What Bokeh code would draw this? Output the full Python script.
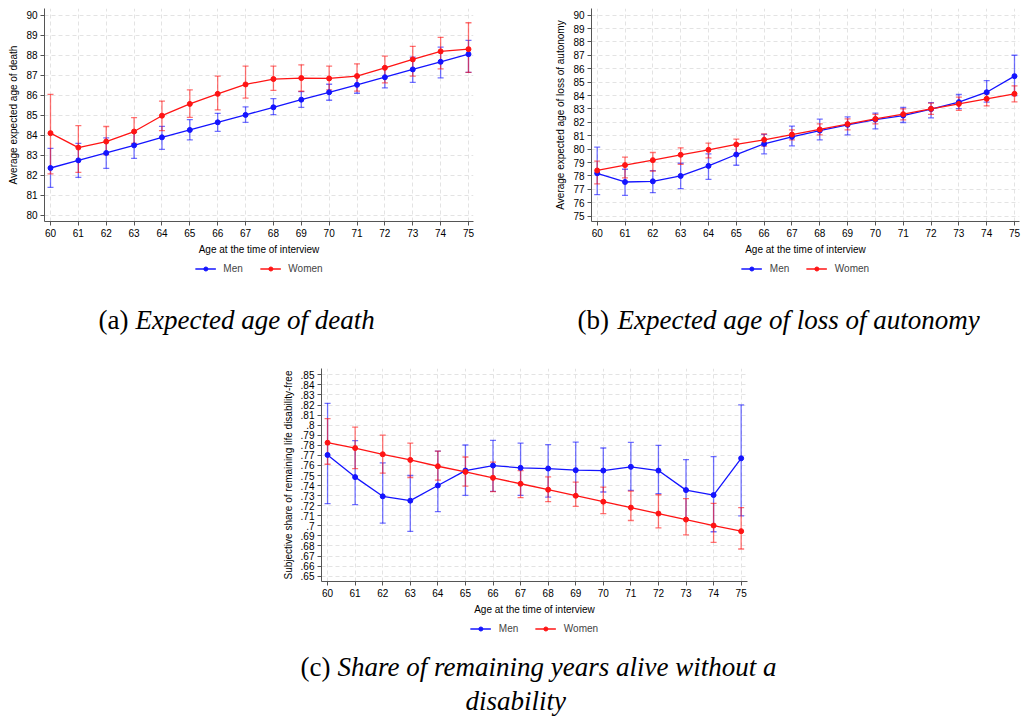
from bokeh.plotting import figure
from bokeh.models import (Range1d, FixedTicker, Legend, LegendItem, Whisker, TeeHead,
                          ColumnDataSource)
from bokeh.layouts import column, row
from bokeh.embed import file_html
from bokeh.resources import INLINE
from bokeh.core.properties import value

# ---------------- data ----------------
AGES = [60, 61, 62, 63, 64, 65, 66, 67, 68, 69, 70, 71, 72, 73, 74, 75]

# (a) Expected age of death
A_MEN = [82.37, 82.75, 83.12, 83.50, 83.90, 84.27, 84.65, 85.02, 85.40, 85.78, 86.15, 86.52, 86.90, 87.29, 87.67, 88.05]
A_MEN_LO = [81.40, 81.90, 82.35, 82.85, 83.30, 83.77, 84.20, 84.65, 85.03, 85.40, 85.75, 86.10, 86.37, 86.64, 86.87, 87.14]
A_MEN_HI = [83.35, 83.60, 83.87, 84.15, 84.45, 84.78, 85.10, 85.42, 85.83, 86.18, 86.55, 86.95, 87.40, 87.90, 88.40, 88.74]
A_WOM = [84.11, 83.39, 83.69, 84.19, 84.98, 85.57, 86.07, 86.54, 86.81, 86.86, 86.84, 86.96, 87.37, 87.79, 88.19, 88.30]
A_WOM_LO = [82.08, 82.15, 83.04, 83.60, 84.24, 84.90, 85.27, 85.86, 86.24, 86.20, 86.27, 86.21, 86.62, 86.96, 87.32, 87.14]
A_WOM_HI = [86.04, 84.48, 84.44, 84.88, 85.71, 86.27, 86.96, 87.45, 87.45, 87.52, 87.45, 87.57, 87.95, 88.44, 88.89, 89.62]

# (b) Expected age of loss of autonomy
B_MEN = [78.20, 77.55, 77.60, 78.00, 78.75, 79.60, 80.40, 80.92, 81.39, 81.82, 82.21, 82.51, 82.99, 83.51, 84.25, 85.45]
B_MEN_LO = [76.60, 76.55, 76.75, 77.05, 77.75, 78.80, 79.65, 80.25, 80.70, 81.07, 81.52, 81.99, 82.34, 83.03, 83.51, 84.00]
B_MEN_HI = [80.15, 78.50, 78.40, 78.95, 79.65, 80.35, 81.10, 81.72, 82.24, 82.41, 82.69, 83.11, 83.48, 84.08, 85.12, 87.01]
B_WOM = [78.41, 78.81, 79.18, 79.58, 79.95, 80.35, 80.70, 81.09, 81.47, 81.87, 82.26, 82.61, 83.01, 83.38, 83.76, 84.13]
B_WOM_LO = [77.41, 77.86, 78.36, 78.86, 79.35, 79.60, 80.22, 80.70, 81.07, 81.44, 81.89, 82.19, 82.59, 82.89, 83.23, 83.53]
B_WOM_HI = [79.10, 79.40, 79.75, 80.10, 80.45, 80.75, 81.14, 81.44, 81.89, 82.26, 82.59, 83.01, 83.43, 83.88, 84.13, 84.73]

# (c) Share of remaining years alive without a disability
C_MEN = [0.7704, 0.7484, 0.7293, 0.7250, 0.7401, 0.7549, 0.7599, 0.7576, 0.7569, 0.7553, 0.7549, 0.7586, 0.7549, 0.7355, 0.7306, 0.7671]
C_MEN_LO = [0.7220, 0.7211, 0.7026, 0.6944, 0.7141, 0.7303, 0.7342, 0.7303, 0.7286, 0.7296, 0.7336, 0.7352, 0.7319, 0.7066, 0.6941, 0.7099]
C_MEN_HI = [0.8217, 0.7846, 0.7625, 0.7500, 0.7743, 0.7803, 0.7849, 0.7822, 0.7806, 0.7832, 0.7773, 0.7829, 0.7799, 0.7658, 0.7688, 0.8201]
C_WOM = [0.7826, 0.7773, 0.7711, 0.7655, 0.7592, 0.7536, 0.7477, 0.7418, 0.7359, 0.7299, 0.7240, 0.7181, 0.7122, 0.7062, 0.7003, 0.6947]
C_WOM_LO = [0.7612, 0.7569, 0.7523, 0.7480, 0.7454, 0.7395, 0.7339, 0.7280, 0.7240, 0.7194, 0.7122, 0.7053, 0.6980, 0.6911, 0.6836, 0.6770]
C_WOM_HI = [0.8066, 0.7980, 0.7901, 0.7822, 0.7743, 0.7684, 0.7632, 0.7549, 0.7487, 0.7434, 0.7385, 0.7345, 0.7309, 0.7270, 0.7224, 0.7181]

A_YTICKS = [80, 81, 82, 83, 84, 85, 86, 87, 88, 89, 90]
B_YTICKS = [75, 76, 77, 78, 79, 80, 81, 82, 83, 84, 85, 86, 87, 88, 89, 90]
C_YTICKS = [0.65, 0.66, 0.67, 0.68, 0.69, 0.70, 0.71, 0.72, 0.73, 0.74, 0.75,
            0.76, 0.77, 0.78, 0.79, 0.80, 0.81, 0.82, 0.83, 0.84, 0.85]
C_YLABELS = [".65", ".66", ".67", ".68", ".69", ".7", ".71", ".72", ".73", ".74", ".75",
             ".76", ".77", ".78", ".79", ".8", ".81", ".82", ".83", ".84", ".85"]

SERIES = ["Men", "Women"]
X_TITLE = "Age at the time of interview"
Y_TITLES = ["Average expected age of death",
            "Average expected age of loss of autonomy",
            "Subjective share of remaining life disability-free"]
CAPTIONS = [("(a)", "Expected age of death"),
            ("(b)", "Expected age of loss of autonomy"),
            ("(c)", "Share of remaining years alive without a", "disability")]

# ---------------- style ----------------
BLUE = "#1414ff"
RED = "#ff1414"
COLORS = [BLUE, RED]
AX = "#555555"
GRID = "#e3e3e3"
SANS = "Liberation Sans"
SERIF = "Liberation Serif"
FS = "10px"
CAP_FS = "27px"
LW = 1.3
MSIZE = 5


def panel(men, men_lo, men_hi, wom, wom_lo, wom_hi, yticks, ylabels, ytitle,
          xr, yr, fw, fh, mbl, mbr, mbt, mbb):
    p = figure(width=mbl + fw + mbr, height=mbt + fh + mbb,
               x_range=Range1d(*xr), y_range=Range1d(*yr),
               output_backend="svg", toolbar_location=None,
               min_border_left=mbl, min_border_right=mbr, min_border_top=mbt,
               min_border_bottom=mbb, background_fill_color="white",
               border_fill_color="white")
    p.outline_line_color = None
    p.xaxis.ticker = FixedTicker(ticks=AGES)
    p.yaxis.ticker = FixedTicker(ticks=yticks)
    if ylabels is not None:
        p.yaxis.major_label_overrides = dict(zip(yticks, ylabels))
    p.xaxis.axis_label = X_TITLE
    p.yaxis.axis_label = ytitle
    for ax in (p.xaxis[0], p.yaxis[0]):
        ax.axis_line_color = AX
        ax.axis_line_width = 1
        ax.major_tick_line_color = AX
        ax.major_tick_out = 4
        ax.major_tick_in = 0
        ax.minor_tick_line_color = None
        ax.major_label_text_font = SANS
        ax.major_label_text_font_size = FS
        ax.major_label_text_color = "black"
        ax.axis_label_text_font = SANS
        ax.axis_label_text_font_size = FS
        ax.axis_label_text_font_style = "normal"
        ax.axis_label_text_color = "black"
        ax.major_label_standoff = 3
        ax.axis_label_standoff = 4
    for g in (p.xgrid[0], p.ygrid[0]):
        g.grid_line_color = GRID
        g.grid_line_dash = "4 3"
        g.grid_line_width = 1

    sources = []
    for vals, lo, hi, col in ((men, men_lo, men_hi, BLUE), (wom, wom_lo, wom_hi, RED)):
        src = ColumnDataSource(dict(x=AGES, y=vals, lo=lo, hi=hi))
        sources.append(src)
        w = Whisker(base="x", lower="lo", upper="hi", source=src,
                    line_color=col, line_alpha=0.6, line_width=LW,
                    upper_head=TeeHead(size=6, line_color=col, line_alpha=0.6, line_width=LW),
                    lower_head=TeeHead(size=6, line_color=col, line_alpha=0.6, line_width=LW))
        p.add_layout(w)
        p.line("x", "y", source=src, line_color=col, line_width=LW)
        p.scatter("x", "y", source=src, marker="circle", size=MSIZE,
                  fill_color=col, line_color=col)
    return p, sources


def legend_fig(sources, fw, mbl, mbr, h):
    # same series, drawn in a strip whose ranges show none of the points: only the key shows
    lf = figure(width=mbl + fw + mbr, height=h, x_range=Range1d(0, 1), y_range=Range1d(0, 1),
                min_border_left=mbl, min_border_right=mbr, min_border_top=0, min_border_bottom=0,
                output_backend="svg", toolbar_location=None,
                x_axis_type=None, y_axis_type=None)
    lf.outline_line_color = None
    items = []
    for name, col, src in zip(SERIES, COLORS, sources):
        l = lf.line("x", "y", source=src, line_color=col, line_width=LW)
        s = lf.scatter("x", "y", source=src, marker="circle", size=MSIZE,
                       fill_color=col, line_color=col)
        items.append(LegendItem(label=name, renderers=[l, s]))
    leg = Legend(items=items, orientation="horizontal", location="center",
                 border_line_color=None, background_fill_alpha=0,
                 label_text_font=SANS, label_text_font_size=FS,
                 glyph_width=21, glyph_height=10, label_standoff=8, spacing=16,
                 padding=3, margin=0)
    lf.add_layout(leg, "center")
    return lf


def caption_fig(w, h, items):
    c = figure(width=w, height=h, x_range=Range1d(0, w), y_range=Range1d(h, 0),
               min_border=0, output_backend="svg", toolbar_location=None,
               x_axis_type=None, y_axis_type=None)
    c.outline_line_color = None
    for (x, y, txt, style) in items:
        c.text(x=[x], y=[y], text=[txt], text_font=value(SERIF), text_font_style=style,
               text_font_size=CAP_FS, text_baseline="alphabetic", text_align="left",
               text_color="black")
    return c


# frame geometry (page pixels): a: 44-473 x 8-221, b: 591-1019, c: 321-747 x 368-583
pa, sa = panel(A_MEN, A_MEN_LO, A_MEN_HI, A_WOM, A_WOM_LO, A_WOM_HI, A_YTICKS, None, Y_TITLES[0],
               (59.785, 75.18), (79.7, 90.33), 429, 213, 44, 10, 8, 36)
pb, sb = panel(B_MEN, B_MEN_LO, B_MEN_HI, B_WOM, B_WOM_LO, B_WOM_HI, B_YTICKS, None, Y_TITLES[1],
               (59.795, 75.18), (74.6, 90.5), 428, 213, 108, 2, 8, 36)
pc, sc = panel(C_MEN, C_MEN_LO, C_MEN_HI, C_WOM, C_WOM_LO, C_WOM_HI, C_YTICKS, C_YLABELS, Y_TITLES[2],
               (59.78, 75.23), (0.6447, 0.8563), 426, 215, 321, 20, 23, 34)

lega = legend_fig(sa, 429, 44, 10, 22)
legb = legend_fig(sb, 428, 108, 2, 22)
legc = legend_fig(sc, 426, 321, 20, 22)

capa = caption_fig(483, 66, [(98, 40, CAPTIONS[0][0], "normal"), (135, 40, CAPTIONS[0][1], "italic")])
capb = caption_fig(538, 66, [(94, 40, CAPTIONS[1][0], "normal"), (134, 40, CAPTIONS[1][1], "italic")])
capc = caption_fig(820, 80, [(300, 27, CAPTIONS[2][0], "normal"), (337, 27, CAPTIONS[2][1], "italic"),
                             (465, 61, CAPTIONS[2][2], "italic")])

layout = column(
    row(column(pa, lega), column(pb, legb)),
    row(capa, capb),
    row(column(pc, legc)),
    row(capc),
)

with open("out.html", "w") as f:
    f.write(file_html(layout, INLINE))
